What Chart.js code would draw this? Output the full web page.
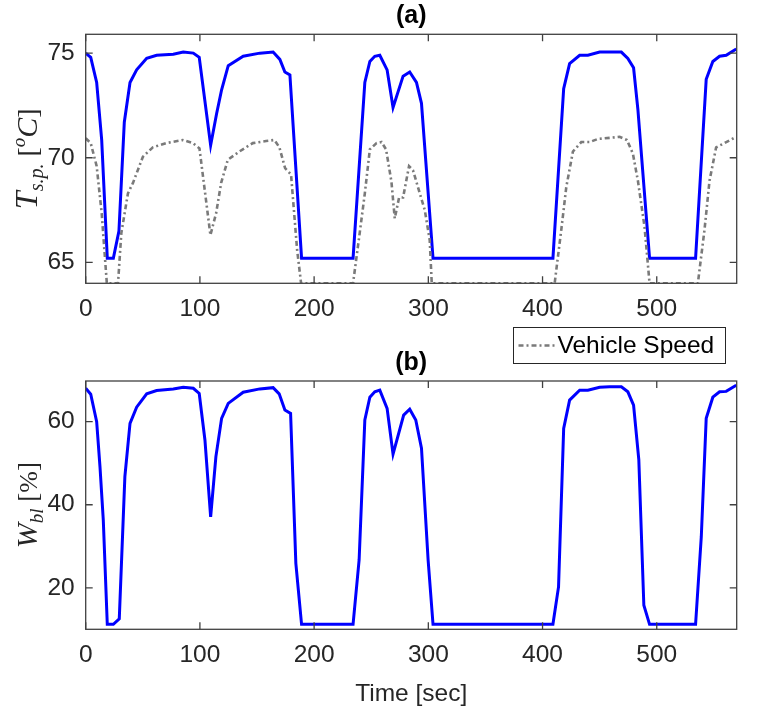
<!DOCTYPE html>
<html>
<head>
<meta charset="utf-8">
<script src="https://cdn.jsdelivr.net/npm/chart.js@4.4.1/dist/chart.umd.min.js"></script>
<style>
  body { margin: 0; background: #ffffff; }
  #wrap { position: relative; width: 760px; height: 709px; }
  canvas { position: absolute; left: 0; top: 0; }
</style>
</head>
<body>
<div id="wrap">
  <canvas id="chartA" width="760" height="709"></canvas>
  <canvas id="chartB" width="760" height="709"></canvas>
</div>
<script>
/* (a) set point temperature, blue */
const timeTsp = [0,4.4,9.6,14,18.9,24.2,29.1,33.8,38.8,44.6,53.4,62.1,76.7,85.4,94.2,99.4,109.4,114.6,119,124.8,137.9,152.5,164.1,170,174.4,178.8,189,234.1,244.4,248.8,253.1,257.5,263.9,269.1,277.9,283.7,289.6,294,304.1,409.1,418.5,423.7,432.5,439.7,450,458.7,469,474.7,479.7,483.5,493.7,534,543.3,549.1,555,560.8,569.6];
const valTsp  = [75.0,74.8,73.6,70.85,65.2,65.2,66.5,71.7,73.6,74.2,74.75,74.9,74.95,75.05,75.0,74.8,70.6,72.1,73.25,74.4,74.85,75.0,75.05,74.7,74.1,73.96,65.2,65.2,73.6,74.6,74.85,74.9,74.2,72.4,73.9,74.1,73.6,72.6,65.2,65.2,73.3,74.5,74.9,74.9,75.05,75.05,75.05,74.75,74.3,72.3,65.2,65.2,73.75,74.6,74.85,74.9,75.2];

/* (a) vehicle speed (scaled), gray dash-dot */
const timeSpeed = [0,4.4,9.6,14,18.5,28.3,31.2,37,41.4,50.1,58.8,70.4,85,93.8,99.6,105.4,109.2,114.2,118.6,124.4,134.6,146.3,158,165.2,169.6,174.6,179.8,185.1,188.6,234.1,239.9,244.4,248.8,254.6,259,263,267.7,270.6,274.4,277.9,283.1,286.6,292.5,296.9,301.2,303,410.6,416.4,420.8,426.6,433.9,441.2,448.5,458.7,467.5,473.9,479.1,483.5,489.3,493.7,536,541.8,546.2,552,559.3,569.6];
const valSpeed  = [70.93,70.7,69.6,67.35,64,64,66.4,68.3,68.8,70.05,70.5,70.7,70.85,70.7,70.45,67.95,66.3,67.35,68.8,69.9,70.3,70.7,70.8,70.85,70.5,69.5,69.2,65.6,64,64,66.4,68.3,70.4,70.7,70.75,70.4,68.85,67.1,68.1,68.1,69.6,69.4,68.3,67.5,66.07,64,64,66.55,68.6,70.3,70.75,70.75,70.9,70.95,71.0,70.85,70.2,68.9,66.7,64,64,66.55,68.9,70.5,70.7,71.0];

/* (b) W_bl, blue */
const timeWbl = [0,4.4,9.6,12.5,15.4,18.9,24.2,29.4,34.3,38.8,44.6,53.4,62.1,76.7,85.4,94.2,99.4,104.4,109.4,114,119,124.8,137.9,152.5,164.1,169.4,174.4,179.4,184,189,234.1,239.4,244.4,248.8,253.1,257.5,263.9,269.1,278.4,283.7,289,294,299.8,304.1,409.1,414,418.5,423.7,432.5,439.7,450,458.7,469,474.7,479.7,484.3,488.7,493.7,534,539,543.3,549.1,555,560.8,569.6];
const valWbl  = [68.05,66.6,60,49.2,36.3,11.2,11.2,12.5,46.75,59.6,63.5,66.7,67.5,67.9,68.3,68.05,66.8,55.6,37.1,51.6,60.8,64.4,67.1,67.9,68.2,66.7,62.8,62.0,25.9,11.2,11.2,26.7,60.4,65.9,67.2,67.6,63.2,52.2,61.6,63.0,60.4,53.6,26.7,11.2,11.2,20.2,58.4,65.2,67.6,67.6,68.3,68.4,68.4,67.2,64.0,50.8,15.8,11.2,11.2,32.3,60.8,65.9,67.2,67.3,68.8];

/* ticks */
const xTicks = [0,100,200,300,400,500];
const yTicksA = [65,70,75];
const yTicksB = [20,40,60];

const toXY = (xs, ys) => xs.map((v, i) => ({x: v, y: ys[i]}));

Chart.defaults.font.family = '"Liberation Sans", Arial, sans-serif';
Chart.defaults.font.size = 24.5;
Chart.defaults.color = '#262626';

const speedDash = [5, 3, 2, 3];

//math style axis label, pieces of [text, font, dy]
function drawMathLabel(ctx, pieces, cx, cy) {
    ctx.save();
    ctx.translate(cx, cy);
    ctx.rotate(-Math.PI / 2);
    ctx.fillStyle = '#262626';
    ctx.textBaseline = 'alphabetic';
    ctx.textAlign = 'left';
    let total = 0;
    pieces.forEach(p => { ctx.font = p[1]; total += ctx.measureText(p[0]).width; });
    let px = -total / 2;
    pieces.forEach(p => {
        ctx.font = p[1];
        ctx.fillText(p[0], px, 10 + p[2]);
        px += ctx.measureText(p[0]).width;
    });
    ctx.restore();
}

const framePlugin = {
    id: 'frame',
    afterDatasetsDraw(chart, args, opts) {
        const {ctx, chartArea: a, scales: {x, y}} = chart;
        const tl = 7;
        ctx.save();
        ctx.strokeStyle = '#404040';
        ctx.lineWidth = 1.3;
        ctx.setLineDash([]);
        ctx.strokeRect(a.left, a.top, a.right - a.left, a.bottom - a.top);
        ctx.beginPath();
        x.ticks.forEach(t => {
            const p = x.getPixelForValue(t.value);
            ctx.moveTo(p, a.bottom); ctx.lineTo(p, a.bottom - tl);
            ctx.moveTo(p, a.top); ctx.lineTo(p, a.top + tl);
        });
        y.ticks.forEach(t => {
            const p = y.getPixelForValue(t.value);
            ctx.moveTo(a.left, p); ctx.lineTo(a.left + tl, p);
            ctx.moveTo(a.right, p); ctx.lineTo(a.right - tl, p);
        });
        ctx.stroke();

        //panel title
        ctx.fillStyle = '#000000';
        ctx.font = 'bold 25px "Liberation Sans", Arial, sans-serif';
        ctx.textAlign = 'center';
        ctx.textBaseline = 'alphabetic';
        ctx.fillText(opts.title, (a.left + a.right) / 2, a.top - 11);

        drawMathLabel(ctx, opts.ylabel, 27, (a.top + a.bottom) / 2);

        if (opts.xlabel) {
            ctx.fillStyle = '#262626';
            ctx.font = '24.5px "Liberation Sans", Arial, sans-serif';
            ctx.fillText(opts.xlabel, (a.left + a.right) / 2, 701);
        }

        if (opts.legend) {
            //legend box sits between the two panels
            const bx = 513.5, by = 327.5, bw = 212, bh = 36;
            ctx.fillStyle = '#ffffff';
            ctx.fillRect(bx, by, bw, bh);
            ctx.strokeStyle = '#262626';
            ctx.lineWidth = 1;
            ctx.strokeRect(bx, by, bw, bh);
            ctx.strokeStyle = '#7a7a7a';
            ctx.lineWidth = 2.4;
            ctx.setLineDash(speedDash);
            ctx.beginPath();
            ctx.moveTo(bx + 5, by + 18); ctx.lineTo(bx + 42, by + 18);
            ctx.stroke();
            ctx.setLineDash([]);
            ctx.fillStyle = '#000000';
            ctx.textAlign = 'left';
            ctx.textBaseline = 'middle';
            ctx.font = '24.5px "Liberation Sans", Arial, sans-serif';
            ctx.fillText(opts.legend, bx + 44, by + 19);
        }
        ctx.restore();
    }
};

function axes(yMin, yMax, yTicks) {
    return {
        x: {
            type: 'linear', min: 0, max: 570,
            afterBuildTicks: s => { s.ticks = xTicks.map(v => ({value: v})); },
            afterFit: s => { s.height = 40; },
            grid: {display: false, drawTicks: false},
            border: {display: false},
            ticks: {padding: 11, maxRotation: 0, autoSkip: false}
        },
        y: {
            type: 'linear', min: yMin, max: yMax,
            afterBuildTicks: s => { s.ticks = yTicks.map(v => ({value: v})); },
            afterFit: s => { s.width = 85.7; },
            grid: {display: false, drawTicks: false},
            border: {display: false},
            ticks: {padding: 11}
        }
    };
}

//Panel (a)
const chartA = new Chart(document.getElementById('chartA'), {
    type: 'line',
    data: {
        datasets: [{
            label: 'Vehicle Speed',
            data: toXY(timeSpeed, valSpeed),
            borderColor: '#7a7a7a',
            borderWidth: 2.6,
            borderDash: speedDash,
            pointRadius: 0,
            tension: 0
        }, {
            label: 'T_sp',
            data: toXY(timeTsp, valTsp),
            borderColor: '#0000ff',
            borderWidth: 3,
            pointRadius: 0,
            tension: 0
        }]
    },
    options: {
        responsive: false,
        animation: false,
        layout: {padding: {left: 0, right: 23.3, top: 34.3, bottom: 709 - 283.3 - 40}},
        scales: axes(64, 75.9, yTicksA),
        plugins: {
            legend: {display: false},
            tooltip: {enabled: false},
            frame: {
                title: '(a)',
                ylabel: [
                    ['T', 'italic 32px "Liberation Serif", serif', 0],
                    ['s.p.', 'italic 20px "Liberation Serif", serif', 6],
                    [' [', '28px "Liberation Serif", serif', 0],
                    ['o', 'italic 19px "Liberation Serif", serif', -12],
                    ['C', 'italic 30px "Liberation Serif", serif', 0],
                    [']', '28px "Liberation Serif", serif', 0]
                ]
            }
        }
    },
    plugins: [framePlugin]
});

//Panel (b)
const chartB = new Chart(document.getElementById('chartB'), {
    type: 'line',
    data: {
        datasets: [{
            label: 'W_bl',
            data: toXY(timeWbl, valWbl),
            borderColor: '#0000ff',
            borderWidth: 3,
            pointRadius: 0,
            tension: 0
        }]
    },
    options: {
        responsive: false,
        animation: false,
        layout: {padding: {left: 0, right: 23.3, top: 381, bottom: 709 - 629.3 - 40}},
        scales: axes(10, 69.8, yTicksB),
        plugins: {
            legend: {display: false},
            tooltip: {enabled: false},
            frame: {
                title: '(b)',
                xlabel: 'Time [sec]',
                legend: 'Vehicle Speed',
                ylabel: [
                    ['W', 'italic 30px "Liberation Serif", serif', 0],
                    ['bl', 'italic 19px "Liberation Serif", serif', 6],
                    [' [', '27px "Liberation Serif", serif', 0],
                    ['%', '26px "Liberation Serif", serif', 0],
                    [']', '27px "Liberation Serif", serif', 0]
                ]
            }
        }
    },
    plugins: [framePlugin]
});
</script>
</body>
</html>
